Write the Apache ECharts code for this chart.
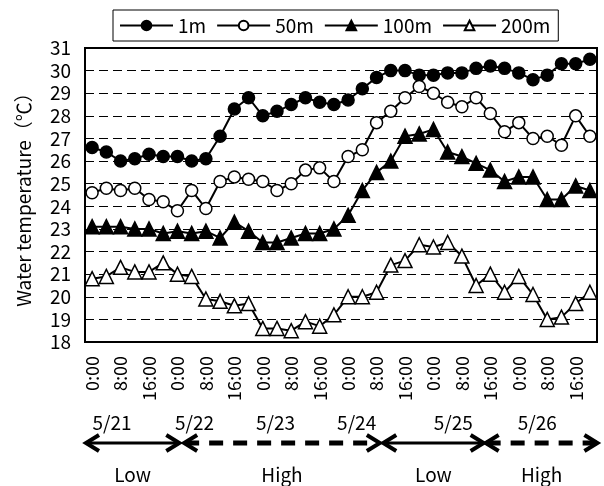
<!DOCTYPE html>
<html>
<head>
<meta charset="utf-8">
<title>Water temperature</title>
<script src="https://cdn.jsdelivr.net/npm/echarts@6/dist/echarts.min.js"></script>
<style>
  html, body { margin: 0; background: #fff; }
  #chart { width: 604px; height: 486px; }
</style>
</head>
<body>
<div id="chart"></div>
<script>
// categories: every 4 hours from 5/21 0:00 to 5/26 20:00
var days = ['5/21', '5/22', '5/23', '5/24', '5/25', '5/26'];
var hours = ['0:00', '4:00', '8:00', '12:00', '16:00', '20:00'];

// water temperature (°C) at each depth
var temp1m = [26.6, 26.4, 26.0, 26.1, 26.3, 26.2, 26.2, 26.0, 26.1,
  27.1, 28.3, 28.8, 28.0, 28.2, 28.5, 28.8, 28.6, 28.5,
  28.7, 29.2, 29.7, 30.0, 30.0, 29.8, 29.8, 29.9, 29.9,
  30.1, 30.2, 30.1, 29.9, 29.6, 29.8, 30.3, 30.3, 30.5];
var temp50m = [24.6, 24.8, 24.7, 24.8, 24.3, 24.2, 23.8, 24.7, 23.9,
  25.1, 25.3, 25.2, 25.1, 24.7, 25.0, 25.6, 25.7, 25.1,
  26.2, 26.5, 27.7, 28.2, 28.8, 29.3, 29.0, 28.6, 28.4,
  28.8, 28.1, 27.3, 27.7, 27.0, 27.1, 26.7, 28.0, 27.1];
var temp100m = [23.1, 23.1, 23.1, 23.0, 23.0, 22.8, 22.9, 22.8, 22.9,
  22.6, 23.3, 22.9, 22.4, 22.4, 22.6, 22.8, 22.8, 23.0,
  23.6, 24.7, 25.5, 26.0, 27.1, 27.2, 27.4, 26.4, 26.2,
  25.9, 25.6, 25.1, 25.3, 25.3, 24.3, 24.3, 24.9, 24.7];
var temp200m = [20.8, 20.9, 21.3, 21.1, 21.1, 21.5, 21.0, 20.9, 19.9,
  19.8, 19.6, 19.7, 18.6, 18.6, 18.5, 18.9, 18.7, 19.2,
  20.0, 20.0, 20.2, 21.4, 21.6, 22.3, 22.2, 22.4, 21.8,
  20.5, 21.0, 20.2, 20.9, 20.1, 19.0, 19.1, 19.7, 20.2];

// y axis ticks
var yMin = 18, yMax = 31, yStep = 1;

// annotations below the axis, in category units
var dateMarks = [['5/21', 1.4], ['5/22', 7.2], ['5/23', 12.9], ['5/24', 18.6], ['5/25', 25.4], ['5/26', 31.3]];
var tides = [['Low', -0.5, 6.2], ['High', 6.4, 20.3], ['Low', 20.4, 27.6], ['High', 27.6, 35.6]];

var categories = [];
days.forEach(function (d) {
  hours.forEach(function (h) { categories.push(h); });
});

var font = '"Noto Sans CJK JP", "Noto Sans", sans-serif';
var gridLeft = 85, gridRight = 7, gridTop = 48, gridBottom = 144;
var chartW = 604;
var plotW = chartW - gridLeft - gridRight;

function xAt(i) {
  return gridLeft + (i + 0.5) * plotW / categories.length;
}

var graphics = [];
var arrowY = 443;
dateMarks.forEach(function (m) {
  graphics.push({
    type: 'text', x: xAt(m[1]), y: 423,
    style: { text: m[0], font: '19px ' + font, fill: '#000', align: 'center', verticalAlign: 'middle' }
  });
});
tides.forEach(function (t) {
  var x1 = xAt(t[1]), x2 = xAt(t[2]);
  var dashed = t[0] === 'High';
  graphics.push({
    type: 'line',
    shape: { x1: x1 + 2, y1: arrowY, x2: x2 - 2, y2: arrowY },
    style: { stroke: '#000', lineWidth: dashed ? 5 : 3, lineDash: dashed ? [14, 10] : null }
  });
  graphics.push({
    type: 'polyline',
    shape: { points: [[x1 + 14, arrowY - 8], [x1 + 1, arrowY], [x1 + 14, arrowY + 8]] },
    style: { stroke: '#000', fill: null, lineWidth: 4 }
  });
  graphics.push({
    type: 'polyline',
    shape: { points: [[x2 - 14, arrowY - 8], [x2 - 1, arrowY], [x2 - 14, arrowY + 8]] },
    style: { stroke: '#000', fill: null, lineWidth: 4 }
  });
  graphics.push({
    type: 'text', x: (x1 + x2) / 2, y: 475,
    style: { text: t[0], font: '19px ' + font, fill: '#000', align: 'center', verticalAlign: 'middle' }
  });
});

function lineSeries(name, data, symbol, size, fill) {
  return {
    name: name,
    type: 'line',
    data: data,
    symbol: symbol,
    symbolSize: size,
    showAllSymbol: true,
    lineStyle: { color: '#000', width: 2 },
    itemStyle: { color: fill, borderColor: '#000', borderWidth: 1.5 }
  };
}

var chart = echarts.init(document.getElementById('chart'));
chart.setOption({
  animation: false,
  backgroundColor: '#fff',
  textStyle: { fontFamily: font, color: '#000' },
  legend: {
    left: 113, top: 10,
    padding: [6, 8, 6, 6],
    itemGap: 10, itemWidth: 53, itemHeight: 12,
    borderColor: '#000', borderWidth: 1,
    textStyle: { fontSize: 19, color: '#000', fontFamily: font }
  },
  grid: {
    left: gridLeft, right: gridRight, top: gridTop, bottom: gridBottom,
    show: true, borderColor: '#000', borderWidth: 2
  },
  xAxis: {
    type: 'category',
    data: categories,
    boundaryGap: true,
    axisLine: { lineStyle: { color: '#000', width: 2 } },
    axisTick: { inside: true, length: 5, interval: 0, lineStyle: { color: '#000' } },
    axisLabel: { interval: 1, rotate: 90, fontSize: 18, margin: 14, color: '#000', fontFamily: font },
    splitLine: { show: false }
  },
  yAxis: {
    type: 'value',
    min: yMin, max: yMax, interval: yStep,
    name: 'Water temperature（℃）',
    nameLocation: 'middle',
    nameGap: 52,
    nameTextStyle: { fontSize: 19, color: '#000', fontFamily: font },
    axisLine: { show: true, lineStyle: { color: '#000', width: 2 } },
    axisTick: { show: true, inside: true, length: 5, lineStyle: { color: '#000' } },
    axisLabel: { fontSize: 19, margin: 14, color: '#000', fontFamily: font },
    splitLine: { show: true, lineStyle: { color: '#000', width: 1, type: [9, 5] } }
  },
  graphic: graphics,
  series: [
    lineSeries('1m', temp1m, 'circle', 12, '#000'),
    lineSeries('50m', temp50m, 'circle', 12, '#fff'),
    lineSeries('100m', temp100m, 'triangle', 14, '#000'),
    lineSeries('200m', temp200m, 'triangle', 14, '#fff')
  ]
});
</script>
</body>
</html>
